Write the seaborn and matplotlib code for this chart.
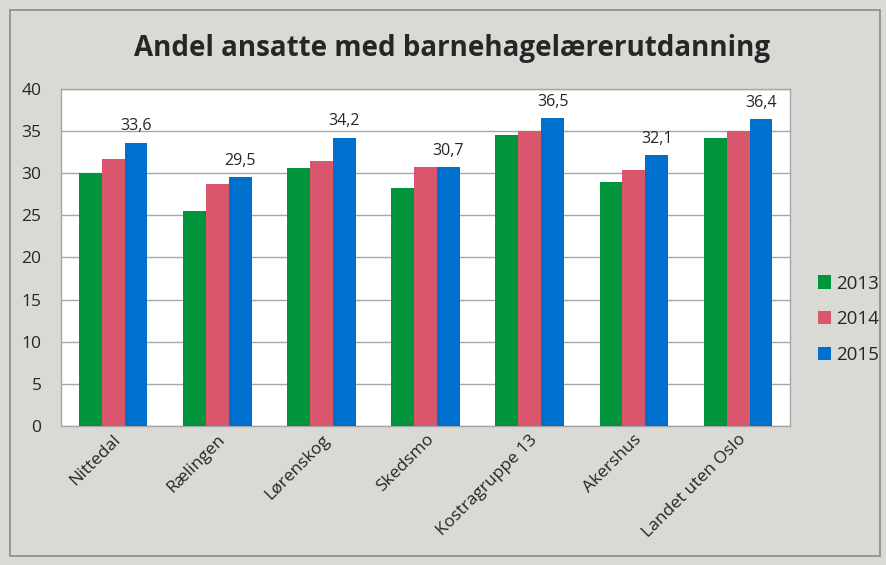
import pandas as pd
import seaborn as sns
import matplotlib.pyplot as plt
from matplotlib.patches import Rectangle

kommuner = ['Nittedal', 'Rælingen', 'Lørenskog', 'Skedsmo', 'Kostragruppe 13', 'Akershus', 'Landet uten Oslo']
aar = ['2013', '2014', '2015']
v2013 = [30.0, 25.5, 30.6, 28.2, 34.5, 28.9, 34.1]
v2014 = [31.7, 28.7, 31.4, 30.7, 35.0, 30.4, 35.0]
v2015 = [33.6, 29.5, 34.2, 30.7, 36.5, 32.1, 36.4]

rows = []
for year, vals in zip(aar, [v2013, v2014, v2015]):
    for k, v in zip(kommuner, vals):
        rows.append({'kommune': k, 'aar': year, 'andel': v})
data = pd.DataFrame(rows)

sns.set_style('white')
plt.rcParams['font.family'] = ['Open Sans', 'DejaVu Sans']

bg = '#D9D9D5'
fig = plt.figure(figsize=(8.87, 5.65), dpi=100, facecolor=bg)
fig.patches.append(Rectangle((0.011, 0.016), 0.981, 0.967, transform=fig.transFigure,
                             fill=False, edgecolor='#8C8C8C', linewidth=1.2))
ax = fig.add_axes([0.0688, 0.246, 0.822, 0.597])

colors = ['#00953A', '#D9566C', '#0070CF']
sns.barplot(data=data, x='kommune', y='andel', hue='aar', palette=colors, saturation=1,
            width=0.66, gap=0, linewidth=0, ax=ax, zorder=3, legend=True)

ax.set_ylim(0, 40)
ax.set_xlim(-0.5, 6.5)
ax.set_yticks(range(0, 41, 5))
ax.yaxis.grid(True, color='#A6A6A6', linewidth=1.0, zorder=0)
ax.set_axisbelow(True)
for s in ax.spines.values():
    s.set_color('#A6A6A6')
    s.set_linewidth(1.0)
ax.set_xlabel('')
ax.set_ylabel('')
ax.tick_params(axis='y', labelsize=12.5, pad=14, length=0)
ax.tick_params(axis='x', labelsize=12.5, length=0, pad=4)
plt.setp(ax.get_xticklabels(), rotation=45, ha='right', rotation_mode='anchor')

# etiketter for 2015
ax.bar_label(ax.containers[2], labels=[str(v).replace('.', ',') for v in v2015],
             padding=6, fontsize=11.5)

ax.legend(loc='center left', bbox_to_anchor=(1.028, 0.316), frameon=False,
          fontsize=13.5, handlelength=0.7, handleheight=0.7, labelspacing=0.95,
          handletextpad=0.25, borderaxespad=0)

fig.text(0.51, 0.915, 'Andel ansatte med barnehagelærerutdanning', ha='center', va='center',
         fontsize=20, fontweight='bold')

fig.savefig('out.png', dpi=100, facecolor=bg)
